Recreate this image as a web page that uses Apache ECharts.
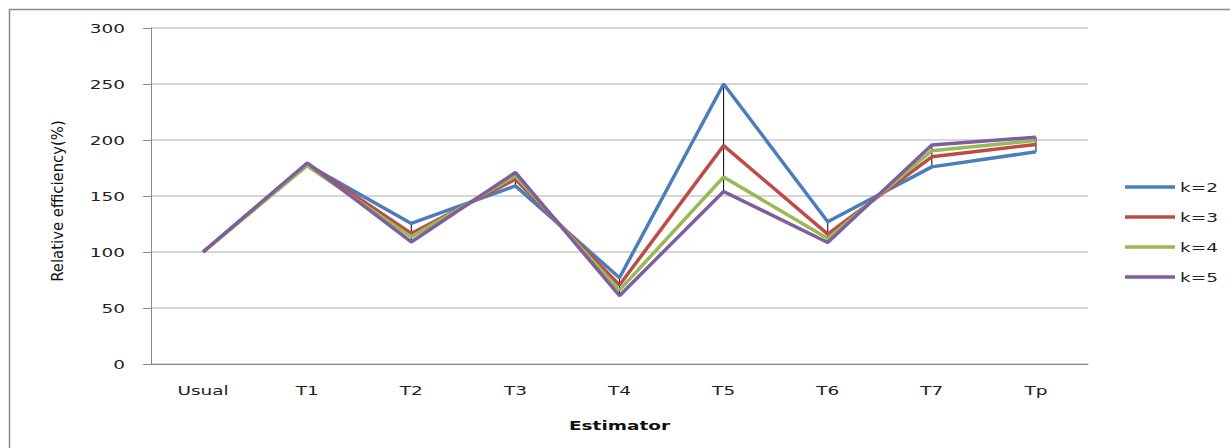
<!DOCTYPE html>
<html><head><meta charset="utf-8">
<script src="https://cdn.jsdelivr.net/npm/echarts@6/dist/echarts.min.js"></script>
<style>
html,body{margin:0;padding:0;background:#fff}
#c{width:1230px;height:448px}
</style>
</head><body><div id="c"></div>
<script>
const categories = ['Usual','T1','T2','T3','T4','T5','T6','T7','Tp'];
const k2 = [100, 178, 125.5, 159, 77, 250, 127, 176, 189.5];
const k3 = [100, 179, 116.5, 165, 70.5, 195, 116, 185, 196];
const k4 = [100, 177, 113.5, 168, 66, 167, 112, 190.5, 199.5];
const k5 = [100, 179.5, 109, 171, 61, 154, 108.5, 195.5, 202.5];
const yTicks = [0, 50, 100, 150, 200, 250, 300];
const seriesNames = ['k=2','k=3','k=4','k=5'];
const colors = ['#4A7EBB','#BE4B48','#98B954','#7D5FA0'];
const all = [k2,k3,k4,k5];
const hiLo = categories.map((c,i)=>{
  const v = all.map(a=>a[i]);
  return [i, Math.min(...v), Math.max(...v)];
});
const chart = echarts.init(document.getElementById('c'), null, {renderer:'svg'});
const lineSeries = all.map((d,i)=>({
  name: seriesNames[i], type:'line', data:d, symbol:'none',
  lineStyle:{width:3.5, color:colors[i]}, itemStyle:{color:colors[i]}, z:3
}));
chart.setOption({
  animation:false,
  graphic:[{type:'rect', shape:{x:9.5,y:9.5,width:1240,height:460}, style:{fill:'none', stroke:'#8a8a8a', lineWidth:1.5}, z:-1}],
  grid:{left:151, right:142, top:28, bottom:84},
  legend:{
    data: seriesNames, orient:'vertical', left:1120, top:175.5, itemGap:17,
    itemWidth:50, itemHeight:3.5, icon:'rect',
    textStyle:{fontFamily:'DejaVu Sans', fontSize:13, color:'#222'}
  },
  xAxis:{
    type:'category', data:categories, boundaryGap:true,
    name:'Estimator', nameLocation:'middle', nameGap:55,
    nameTextStyle:{fontFamily:'DejaVu Sans', fontSize:13, fontWeight:'bold', color:'#111'},
    axisLine:{lineStyle:{color:'#888', width:1}},
    axisTick:{show:false},
    axisLabel:{fontFamily:'DejaVu Sans', fontSize:13, color:'#222', margin:20}
  },
  yAxis:{
    type:'value', min:yTicks[0], max:yTicks[yTicks.length-1], interval:50,
    name:'Relative efficiency(%)', nameLocation:'middle', nameGap:85, nameRotate:90,
    nameTextStyle:{fontFamily:'DejaVu Sans Condensed', fontSize:16.5, color:'#111', padding:[0,10,0,0]},
    axisLine:{show:true, lineStyle:{color:'#888', width:1}},
    axisTick:{show:true, length:8, inside:false, lineStyle:{color:'#888'}},
    splitLine:{lineStyle:{color:'#c8c8c8', width:1.5}},
    axisLabel:{fontFamily:'DejaVu Sans', fontSize:13, color:'#222', margin:26}
  },
  series:[
    ...lineSeries,
    {
      type:'custom', name:'hilo', data:hiLo, z:2, silent:true,
      renderItem:(params, api)=>{
        const p1 = api.coord([api.value(0), api.value(1)]);
        const p2 = api.coord([api.value(0), api.value(2)]);
        return {type:'line', shape:{x1:p1[0], y1:p1[1], x2:p2[0], y2:p2[1]}, style:{stroke:'#000', lineWidth:1}};
      }
    }
  ]
});
// widen horizontal glyphs like the stretched reference
const STRETCH = 1.42;
function widen(){
  document.querySelectorAll('#c svg text').forEach(t=>{
    const st = t.getAttribute('style') || '';
    if (st.indexOf('Condensed') >= 0) return;
    t.removeAttribute('textLength');
    const len = t.getComputedTextLength();
    if (len > 0) {
      t.setAttribute('textLength', (len*STRETCH).toFixed(2));
      t.setAttribute('lengthAdjust', 'spacingAndGlyphs');
    }
  });
}
chart.on('finished', widen);
setTimeout(widen, 50);
</script></body></html>
